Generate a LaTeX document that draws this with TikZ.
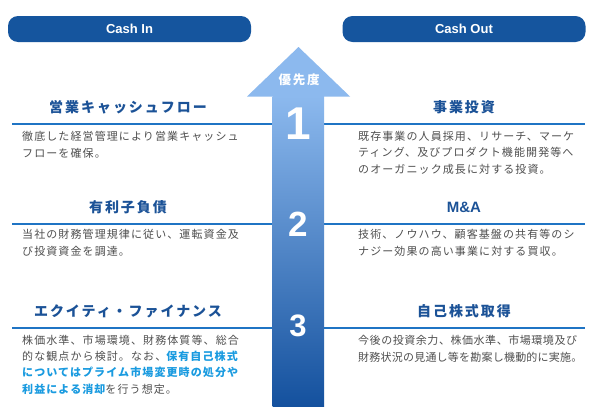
\documentclass[tikz,border=0pt]{standalone}
\usepackage{fontspec}
\setmainfont{Liberation Sans}
\newfontfamily\bodyjp{Noto Sans CJK JP}[LetterSpace=10]
\newfontfamily\bodyjpa{Noto Sans CJK JP}[LetterSpace=5]
\newfontfamily\bodyjpb{Noto Sans CJK JP}[LetterSpace=2]
\newfontfamily\titlejp{Noto Sans CJK JP}[LetterSpace=14]
\newfontfamily\lat{Liberation Sans}
\definecolor{pillblue}{HTML}{15559E}
\definecolor{titleblue}{HTML}{1B5297}
\definecolor{ruleblue}{HTML}{1F74C4}
\definecolor{bodygray}{HTML}{4F4F4F}
\definecolor{hl}{HTML}{1A9BE0}
\definecolor{arrowlight}{HTML}{8CB9EE}
\definecolor{arrowdark}{HTML}{14519E}
\tikzset{
  pill/.style={fill=pillblue, rounded corners=10pt, minimum width=243pt, minimum height=26pt, inner sep=0pt, text=white, font=\lat\bfseries\fontsize{13}{15}\selectfont},
  ttl/.style={text=titleblue, inner sep=0pt, font=\titlejp\bfseries\fontsize{14}{16}\selectfont},
  ttllat/.style={text=titleblue, inner sep=0pt, font=\lat\bfseries\fontsize{15}{17}\selectfont},
  bodytxt/.style={text=bodygray, inner sep=0pt, anchor=base west, align=left, font=\bodyjp\fontsize{11}{16.2}\selectfont},
  rulel/.style={draw=ruleblue, line width=1.3pt},
  num/.style={text=white, inner sep=0pt, font=\lat\bfseries},
}
\begin{document}
\begin{tikzpicture}[x=1pt,y=-1pt]
\useasboundingbox (0,0) rectangle (600,415);
\fill[white] (0,0) rectangle (600,415);
% pills
\node[pill] (cashin) at (129.5,29) {Cash In};
\node[pill] (cashout) at (464,29) {Cash Out};
% rules
\coordinate (l1a) at (12,124); \coordinate (l1b) at (273,124);
\coordinate (r1a) at (324,124); \coordinate (r1b) at (585,124);
\coordinate (l2a) at (12,224); \coordinate (l2b) at (273,224);
\coordinate (r2a) at (324,224); \coordinate (r2b) at (585,224);
\coordinate (l3a) at (12,328); \coordinate (l3b) at (273,328);
\coordinate (r3a) at (324,328); \coordinate (r3b) at (585,328);
\draw[rulel] (l1a) -- (l1b); \draw[rulel] (r1a) -- (r1b);
\draw[rulel] (l2a) -- (l2b); \draw[rulel] (r2a) -- (r2b);
\draw[rulel] (l3a) -- (l3b); \draw[rulel] (r3a) -- (r3b);
% arrow
\fill[arrowlight] (247,96.5) -- (298.5,47) -- (350,96.5) -- cycle;
\path[top color=arrowlight, bottom color=arrowdark] (272.7,96) rectangle (324,406);
\node[text=white, inner sep=0pt, font=\titlejp\bfseries\fontsize{12.5}{14}\selectfont] (prio) at (299,80) {優先度};
\node[num, font=\lat\bfseries\fontsize{46}{46}\selectfont] (n1) at (298,124) {1};
\node[num, font=\lat\bfseries\fontsize{35}{35}\selectfont] (n2) at (298,224.5) {2};
\node[num, font=\lat\bfseries\fontsize{31}{31}\selectfont] (n3) at (298,326) {3};
% titles
\node[ttl] (t1l) at (128,107) {営業キャッシュフロー};
\node[ttl] (t1r) at (464,107) {事業投資};
\node[ttl] (t2l) at (128,207) {有利子負債};
\node[ttllat] (t2r) at (464,207) {M\&A};
\node[ttl] (t3l) at (128,311) {エクイティ・ファイナンス};
\node[ttl] (t3r) at (464,311) {自己株式取得};
% bodies (anchor = baseline of the last line)
\node[bodytxt] (b1l) at (22,157) {徹底した経営管理により営業キャッシュ\\フローを確保。};
\node[bodytxt] (b1r) at (358,173) {既存事業の人員採用、リサーチ、マーケ\\ティング、及びプロダクト機能開発等へ\\のオーガニック成長に対する投資。};
\node[bodytxt] (b2l) at (22,255) {当社の財務管理規律に従い、運転資金及\\び投資資金を調達。};
\node[bodytxt] (b2r) at (358,255) {技術、ノウハウ、顧客基盤の共有等のシ\\ナジー効果の高い事業に対する買収。};
\node[bodytxt] (b3l) at (22,393) {株価水準、市場環境、財務体質等、総合\\的な観点から検討。なお、{\color{hl}\bfseries 保有自己株式}\\{\color{hl}\bfseries についてはプライム市場変更時の処分や}\\{\color{hl}\bfseries 利益による消却}を行う想定。};
\node[bodytxt] (b3r) at (358,361) {{\bodyjpa 今後の投資余力、株価水準、市場環境及び}\\{\bodyjpb 財務状況の見通し等を勘案し機動的に実施。}};
\end{tikzpicture}
\end{document}
